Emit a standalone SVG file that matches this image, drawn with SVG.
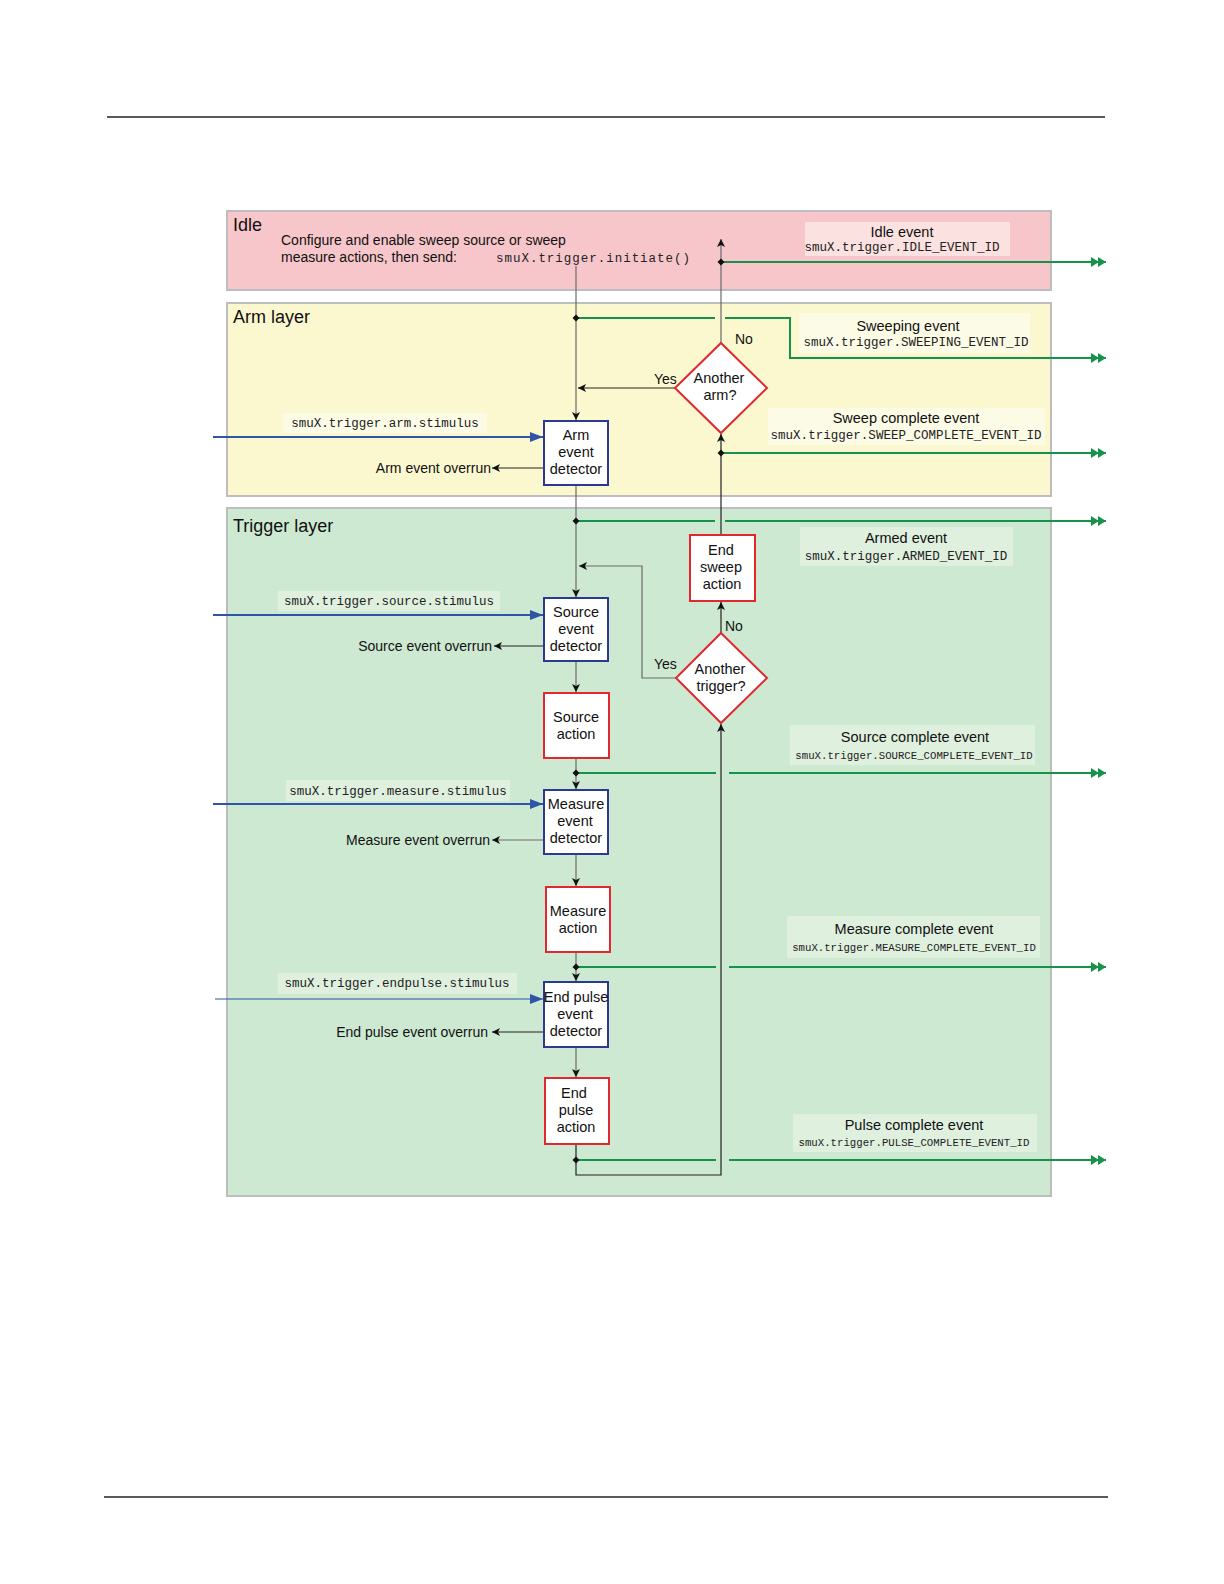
<svg xmlns="http://www.w3.org/2000/svg" width="1224" height="1584" viewBox="0 0 1224 1584">
<style>
.sans{font-family:"Liberation Sans",Arial,sans-serif;fill:#111}
.lbl{font-size:14.5px;text-anchor:middle}
.ttl{font-size:18px}
.code{font-family:"Liberation Mono","Courier New",monospace;fill:#222;font-size:12.5px;text-anchor:middle}
.codes{font-family:"Liberation Mono","Courier New",monospace;fill:#222;font-size:10.7px;text-anchor:middle}
.det{fill:#fff;stroke:#2b3990;stroke-width:2}
.act{fill:#fff;stroke:#e0282e;stroke-width:2}
.g{stroke:#17924c;stroke-width:2;fill:none}
.b{stroke:#2f55a4;stroke-width:2;fill:none}
.k{stroke:#222;stroke-width:1.2;fill:none}
.gr{stroke:#6a6a6a;stroke-width:1.2;fill:none}
</style>
<defs>
<marker id="ah" markerUnits="userSpaceOnUse" markerWidth="9" markerHeight="8" refX="8" refY="4" orient="auto">
<path d="M0,0 L8,4 L0,8 L2,4 z" fill="#111"/>
</marker>
<marker id="bh" markerUnits="userSpaceOnUse" markerWidth="14" markerHeight="10" refX="13" refY="5" orient="auto">
<path d="M0,0 L13,5 L0,10 z" fill="#2f55a4"/>
</marker>
<marker id="gh" markerUnits="userSpaceOnUse" markerWidth="16" markerHeight="10" refX="15" refY="5" orient="auto">
<path d="M0,0 L8,5 L0,10 z M7,0 L15,5 L7,10 z" fill="#17924c"/>
</marker>
</defs>
<line x1="107" y1="117" x2="1105" y2="117" stroke="#222" stroke-width="1.5"/>
<line x1="104" y1="1497" x2="1108" y2="1497" stroke="#222" stroke-width="1.5"/>

<g id="idle-layer">
<rect x="227" y="211" width="824" height="79" fill="#f7c6ca" stroke="#bdbdbd" stroke-width="2"/>
<text x="233" y="231" class="sans ttl">Idle</text>
<text x="281" y="245" class="sans" font-size="14">Configure and enable sweep source or sweep</text>
<text x="281" y="262" class="sans" font-size="14">measure actions, then send:</text>
<text x="593" y="262" class="code" textLength="194" lengthAdjust="spacing">smuX.trigger.initiate()</text>
<rect x="805" y="222" width="205" height="34" fill="#fbe1df"/>
<text x="902" y="237" class="sans lbl">Idle event</text>
<text x="902" y="251" class="code">smuX.trigger.IDLE_EVENT_ID</text>
</g>

<g id="arm-layer">
<rect x="227" y="303" width="824" height="193" fill="#fbf8cf" stroke="#bdbdbd" stroke-width="2"/>
<text x="233" y="323" class="sans ttl">Arm layer</text>
<rect x="799" y="313" width="231" height="40" fill="#fcfbe6"/>
<text x="908" y="331" class="sans lbl">Sweeping event</text>
<text x="916" y="346" class="code">smuX.trigger.SWEEPING_EVENT_ID</text>
<rect x="768" y="408" width="277" height="37" fill="#fcfbe6"/>
<text x="906" y="423" class="sans lbl">Sweep complete event</text>
<text x="906" y="439" class="code" textLength="271" lengthAdjust="spacing">smuX.trigger.SWEEP_COMPLETE_EVENT_ID</text>
<rect x="283" y="413" width="204" height="20" fill="#fcfbe6"/>
<text x="385" y="427" class="code">smuX.trigger.arm.stimulus</text>
</g>

<g id="trigger-layer">
<rect x="227" y="508" width="824" height="688" fill="#cde9d2" stroke="#bdbdbd" stroke-width="2"/>
<text x="233" y="532" class="sans ttl">Trigger layer</text>
<rect x="800" y="527" width="213" height="39" fill="#dff0df"/>
<text x="906" y="543" class="sans lbl">Armed event</text>
<text x="906" y="560" class="code">smuX.trigger.ARMED_EVENT_ID</text>
<rect x="790" y="725" width="245" height="40" fill="#dff0df"/>
<text x="915" y="742" class="sans lbl">Source complete event</text>
<text x="914" y="759" class="codes">smuX.trigger.SOURCE_COMPLETE_EVENT_ID</text>
<rect x="787" y="916" width="253" height="42" fill="#dff0df"/>
<text x="914" y="934" class="sans lbl">Measure complete event</text>
<text x="914" y="951" class="codes">smuX.trigger.MEASURE_COMPLETE_EVENT_ID</text>
<rect x="793" y="1114" width="244" height="38" fill="#dff0df"/>
<text x="914" y="1130" class="sans lbl">Pulse complete event</text>
<text x="914" y="1146" class="codes">smuX.trigger.PULSE_COMPLETE_EVENT_ID</text>
<rect x="278" y="591" width="222" height="20" fill="#dff0df"/>
<text x="389" y="605" class="code">smuX.trigger.source.stimulus</text>
<rect x="286" y="780" width="224" height="21" fill="#dff0df"/>
<text x="398" y="795" class="code">smuX.trigger.measure.stimulus</text>
<rect x="278" y="973" width="239" height="21" fill="#dff0df"/>
<text x="397" y="987" class="code">smuX.trigger.endpulse.stimulus</text>
</g>

<g id="connectors">
<!-- main flow -->
<line x1="576" y1="266" x2="576" y2="420" class="gr" marker-end="url(#ah)"/>
<line x1="576" y1="485" x2="576" y2="597" class="gr" marker-end="url(#ah)"/>
<line x1="576" y1="661" x2="576" y2="692" class="gr" marker-end="url(#ah)"/>
<line x1="576" y1="758" x2="576" y2="789" class="gr" marker-end="url(#ah)"/>
<line x1="576" y1="854" x2="576" y2="886" class="gr" marker-end="url(#ah)"/>
<line x1="576" y1="952" x2="576" y2="981" class="gr" marker-end="url(#ah)"/>
<line x1="576" y1="1047" x2="576" y2="1077" class="gr" marker-end="url(#ah)"/>
<polyline points="576,1144 576,1175 721,1175 721,724" class="k" marker-end="url(#ah)"/>
<line x1="721" y1="343" x2="721" y2="239" class="gr" marker-end="url(#ah)"/>
<line x1="721" y1="535" x2="721" y2="434" class="k" marker-end="url(#ah)"/>
<line x1="721" y1="633" x2="721" y2="602" class="k" marker-end="url(#ah)"/>
<line x1="675" y1="388" x2="578" y2="388" class="k" marker-end="url(#ah)"/>
<polyline points="676,678 642,678 642,566 579,566" class="gr" marker-end="url(#ah)"/>
<!-- overrun -->
<line x1="544" y1="468" x2="492" y2="468" class="k" marker-end="url(#ah)"/>
<line x1="544" y1="646" x2="494" y2="646" class="k" marker-end="url(#ah)"/>
<line x1="544" y1="840" x2="492" y2="840" class="gr" marker-end="url(#ah)"/>
<line x1="544" y1="1032" x2="492" y2="1032" class="k" marker-end="url(#ah)"/>
<!-- stimulus -->
<line x1="213" y1="437" x2="543" y2="437" class="b" marker-end="url(#bh)"/>
<line x1="213" y1="615" x2="543" y2="615" class="b" marker-end="url(#bh)"/>
<line x1="213" y1="804" x2="543" y2="804" class="b" marker-end="url(#bh)"/>
<line x1="215" y1="999" x2="543" y2="999" stroke="#2f55a4" stroke-width="1.2" marker-end="url(#bh)"/>
<!-- events -->
<line x1="721" y1="262" x2="1106" y2="262" class="g" marker-end="url(#gh)"/>
<line x1="576" y1="318" x2="715" y2="318" class="g"/>
<polyline points="725,318 790,318 790,358 1106,358" class="g" marker-end="url(#gh)"/>
<line x1="721" y1="453" x2="1106" y2="453" class="g" marker-end="url(#gh)"/>
<line x1="576" y1="521" x2="715" y2="521" class="g"/>
<line x1="725" y1="521" x2="1106" y2="521" class="g" marker-end="url(#gh)"/>
<line x1="576" y1="773" x2="716" y2="773" class="g"/>
<line x1="729" y1="773" x2="1106" y2="773" class="g" marker-end="url(#gh)"/>
<line x1="576" y1="967" x2="716" y2="967" class="g"/>
<line x1="729" y1="967" x2="1106" y2="967" class="g" marker-end="url(#gh)"/>
<line x1="576" y1="1160" x2="716" y2="1160" class="g"/>
<line x1="729" y1="1160" x2="1106" y2="1160" class="g" marker-end="url(#gh)"/>
<g fill="#111">
<path d="M576,314.5 L579.5,318 L576,321.5 L572.5,318 z"/>
<path d="M721,258.5 L724.5,262 L721,265.5 L717.5,262 z"/>
<path d="M721,449.5 L724.5,453 L721,456.5 L717.5,453 z"/>
<path d="M576,517.5 L579.5,521 L576,524.5 L572.5,521 z"/>
<path d="M576,769.5 L579.5,773 L576,776.5 L572.5,773 z"/>
<path d="M576,963.5 L579.5,967 L576,970.5 L572.5,967 z"/>
<path d="M576,1156.5 L579.5,1160 L576,1163.5 L572.5,1160 z"/>
</g>
<text x="735" y="344" class="sans" font-size="14">No</text>
<text x="654" y="384" class="sans" font-size="14">Yes</text>
<text x="725" y="631" class="sans" font-size="14">No</text>
<text x="654" y="669" class="sans" font-size="14">Yes</text>
<text x="491" y="473" class="sans" font-size="14" text-anchor="end">Arm event overrun</text>
<text x="492" y="651" class="sans" font-size="14" text-anchor="end">Source event overrun</text>
<text x="490" y="845" class="sans" font-size="14" text-anchor="end">Measure event overrun</text>
<text x="488" y="1037" class="sans" font-size="14" text-anchor="end">End pulse event overrun</text>
</g>

<g id="arm-detector">
<rect x="544" y="421" width="64" height="64" class="det"/>
<text class="sans lbl"><tspan x="576" y="440">Arm</tspan><tspan x="576" y="457">event</tspan><tspan x="576" y="474">detector</tspan></text>
</g>
<g id="another-arm">
<polygon points="721,343 767,388 721,433 675,388" fill="#fff" stroke="#e0282e" stroke-width="2"/>
<text class="sans lbl"><tspan x="719" y="383">Another</tspan><tspan x="720" y="400">arm?</tspan></text>
</g>
<g id="end-sweep-action">
<rect x="690" y="535" width="65" height="66" class="act"/>
<text class="sans lbl"><tspan x="721" y="555">End</tspan><tspan x="721" y="572">sweep</tspan><tspan x="722" y="589">action</tspan></text>
</g>
<g id="another-trigger">
<polygon points="721,633 767,678 721,723 676,678" fill="#fff" stroke="#e0282e" stroke-width="2"/>
<text class="sans lbl"><tspan x="720" y="674">Another</tspan><tspan x="721" y="691">trigger?</tspan></text>
</g>
<g id="source-detector">
<rect x="544" y="598" width="64" height="63" class="det"/>
<text class="sans lbl"><tspan x="576" y="617">Source</tspan><tspan x="576" y="634">event</tspan><tspan x="576" y="651">detector</tspan></text>
</g>
<g id="source-action">
<rect x="544" y="693" width="65" height="65" class="act"/>
<text class="sans lbl"><tspan x="576" y="722">Source</tspan><tspan x="576" y="739">action</tspan></text>
</g>
<g id="measure-detector">
<rect x="544" y="790" width="64" height="64" class="det"/>
<text class="sans lbl"><tspan x="576" y="809">Measure</tspan><tspan x="575" y="826">event</tspan><tspan x="576" y="843">detector</tspan></text>
</g>
<g id="measure-action">
<rect x="546" y="887" width="64" height="65" class="act"/>
<text class="sans lbl"><tspan x="578" y="916">Measure</tspan><tspan x="578" y="933">action</tspan></text>
</g>
<g id="endpulse-detector">
<rect x="544" y="982" width="64" height="65" class="det"/>
<text class="sans lbl"><tspan x="576" y="1002">End pulse</tspan><tspan x="575" y="1019">event</tspan><tspan x="576" y="1036">detector</tspan></text>
</g>
<g id="endpulse-action">
<rect x="545" y="1078" width="64" height="66" class="act"/>
<text class="sans lbl"><tspan x="574" y="1098">End</tspan><tspan x="576" y="1115">pulse</tspan><tspan x="576" y="1132">action</tspan></text>
</g>
</svg>
